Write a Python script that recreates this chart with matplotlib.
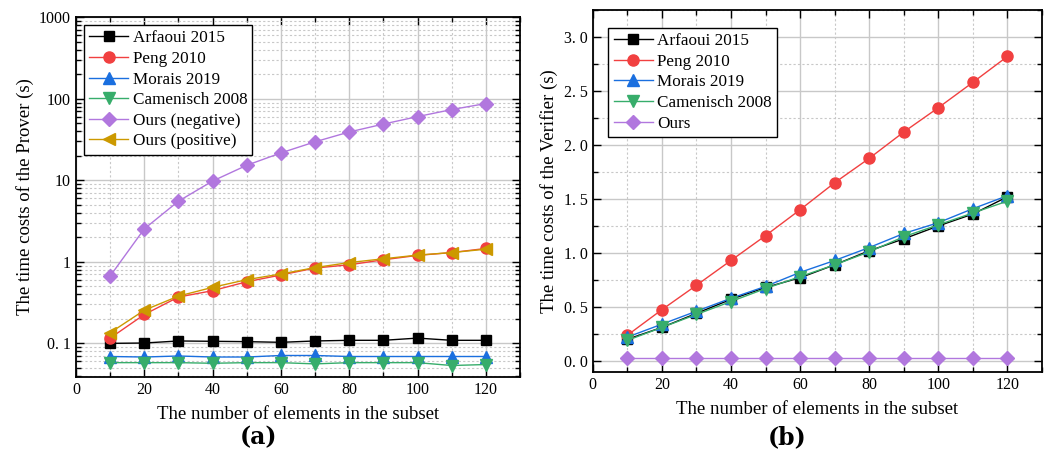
import matplotlib
matplotlib.use("Agg")
import matplotlib.pyplot as plt
from matplotlib.ticker import FixedLocator, FixedFormatter, MultipleLocator, LogLocator, NullFormatter

plt.rcParams['font.family'] = ['Liberation Serif', 'DejaVu Serif']
plt.rcParams['mathtext.fontset'] = 'stix'

# ---------------- data ----------------
x = [10, 20, 30, 40, 50, 60, 70, 80, 90, 100, 110, 120]

# panel (a): prover time (s), log scale
prover_arfaoui = [0.100, 0.101, 0.107, 0.106, 0.105, 0.103, 0.107, 0.109, 0.109, 0.116, 0.109, 0.109]
prover_peng = [0.116, 0.226, 0.37, 0.443, 0.57, 0.69, 0.84, 0.92, 1.06, 1.20, 1.30, 1.46]
prover_morais = [0.069, 0.068, 0.070, 0.068, 0.068, 0.071, 0.071, 0.069, 0.069, 0.069, 0.069, 0.069]
prover_camenisch = [0.058, 0.058, 0.058, 0.057, 0.058, 0.058, 0.056, 0.058, 0.058, 0.058, 0.0535, 0.055]
prover_ours_neg = [0.67, 2.54, 5.55, 9.8, 15.3, 21.7, 29.7, 39.2, 49.0, 60.5, 73.8, 87.5]
prover_ours_pos = [0.135, 0.255, 0.38, 0.487, 0.605, 0.71, 0.85, 0.98, 1.09, 1.21, 1.30, 1.43]

# panel (b): verifier time (s)
ver_arfaoui = [0.20, 0.31, 0.44, 0.57, 0.68, 0.77, 0.89, 1.02, 1.13, 1.25, 1.36, 1.52]
ver_peng = [0.237, 0.474, 0.70, 0.93, 1.16, 1.40, 1.65, 1.876, 2.12, 2.345, 2.58, 2.82]
ver_morais = [0.22, 0.34, 0.46, 0.58, 0.69, 0.82, 0.93, 1.05, 1.18, 1.28, 1.41, 1.53]
ver_camenisch = [0.19, 0.31, 0.43, 0.55, 0.67, 0.78, 0.89, 1.01, 1.15, 1.26, 1.37, 1.48]
ver_ours = [0.03, 0.03, 0.03, 0.03, 0.03, 0.03, 0.03, 0.03, 0.03, 0.03, 0.03, 0.03]

labels_a = ["Arfaoui 2015", "Peng 2010", "Morais 2019", "Camenisch 2008", "Ours (negative)", "Ours (positive)"]
labels_b = ["Arfaoui 2015", "Peng 2010", "Morais 2019", "Camenisch 2008", "Ours"]

xticks = [0, 20, 40, 60, 80, 100, 120]
xticklabels = ["0", "20", "40", "60", "80", "100", "120"]
yticks_a = [0.1, 1, 10, 100, 1000]
yticklabels_a = ["0. 1", "1", "10", "100", "1000"]
yticks_b = [0.0, 0.5, 1.0, 1.5, 2.0, 2.5, 3.0]
yticklabels_b = ["0. 0", "0. 5", "1. 0", "1. 5", "2. 0", "2. 5", "3. 0"]

xlabel = "The number of elements in the subset"
ylabel_a = "The time costs of the Prover (s)"
ylabel_b = "The time costs of the Verifier (s)"

# ---------------- style ----------------
colors = ["#000000", "#F14040", "#1A6FDF", "#37AD6B", "#B177DE", "#CC9900"]
markers = ["s", "o", "^", "v", "D", "<"]
msizes = [7, 8, 8, 8, 7, 8]

fig = plt.figure(figsize=(10.49, 4.55), dpi=100)
W, H = 1049, 455
axa = fig.add_axes([76 / W, 1 - 376.7 / H, (520 - 76) / W, (376.7 - 17.3) / H])
axb = fig.add_axes([592.7 / W, 1 - 371.7 / H, (1042 - 592.7) / W, (371.7 - 10) / H])


def style_axis(ax):
    ax.tick_params(which='both', direction='in', top=True, right=True, labelsize=11.5, width=1.0)
    ax.tick_params(which='major', length=6)
    ax.tick_params(which='minor', length=3.5)
    for s in ax.spines.values():
        s.set_linewidth(1.3)
    ax.grid(which='major', color='#c8c8c8', linestyle='-', linewidth=1.0)
    ax.grid(which='minor', color='#c8c8c8', linestyle=(0, (2, 2)), linewidth=0.8)
    ax.set_axisbelow(True)
    ax.set_xlim(0, 130)
    ax.xaxis.set_major_locator(FixedLocator(xticks))
    ax.xaxis.set_major_formatter(FixedFormatter(xticklabels))
    ax.xaxis.set_minor_locator(MultipleLocator(10))
    ax.set_xlabel(xlabel, fontsize=13.5, labelpad=6)


def make_legend(ax, anchor):
    leg = ax.legend(loc='upper left', bbox_to_anchor=anchor, fontsize=12.3, frameon=True, fancybox=False,
                    edgecolor='black', framealpha=1, borderpad=0.3, labelspacing=0.27, handlelength=2.3,
                    handletextpad=0.25, borderaxespad=0)
    leg.get_frame().set_linewidth(1.0)
    return leg


# panel a
series_a = [prover_arfaoui, prover_peng, prover_morais, prover_camenisch, prover_ours_neg, prover_ours_pos]
for i, ys in enumerate(series_a):
    axa.plot(x, ys, color=colors[i], marker=markers[i], markersize=msizes[i], linewidth=1.0,
             label=labels_a[i], zorder=3 + i * 0.01)
axa.set_yscale('log')
axa.set_ylim(0.039, 1000)
style_axis(axa)
axa.yaxis.set_major_locator(FixedLocator(yticks_a))
axa.yaxis.set_major_formatter(FixedFormatter(yticklabels_a))
axa.yaxis.set_minor_locator(LogLocator(base=10, subs=range(2, 10), numticks=20))
axa.yaxis.set_minor_formatter(NullFormatter())
axa.set_ylabel(ylabel_a, fontsize=13.5, labelpad=4)
make_legend(axa, (0.018, 0.978))

# panel b
series_b = [ver_arfaoui, ver_peng, ver_morais, ver_camenisch, ver_ours]
for i, ys in enumerate(series_b):
    axb.plot(x, ys, color=colors[i], marker=markers[i], markersize=msizes[i], linewidth=1.0,
             label=labels_b[i], zorder=3)
axb.set_ylim(-0.1, 3.25)
style_axis(axb)
axb.yaxis.set_major_locator(FixedLocator(yticks_b))
axb.yaxis.set_major_formatter(FixedFormatter(yticklabels_b))
axb.yaxis.set_minor_locator(MultipleLocator(0.25))
axb.set_ylabel(ylabel_b, fontsize=13.5, labelpad=4)
make_legend(axb, (0.035, 0.95))

fig.text(259 / W, 1 - 437 / H, "(a)", ha='center', va='center', fontsize=17, fontweight='bold',
         family=['DejaVu Serif'])
fig.text(787 / W, 1 - 437 / H, "(b)", ha='center', va='center', fontsize=17, fontweight='bold',
         family=['DejaVu Serif'])

fig.savefig("out.png", dpi=100)
